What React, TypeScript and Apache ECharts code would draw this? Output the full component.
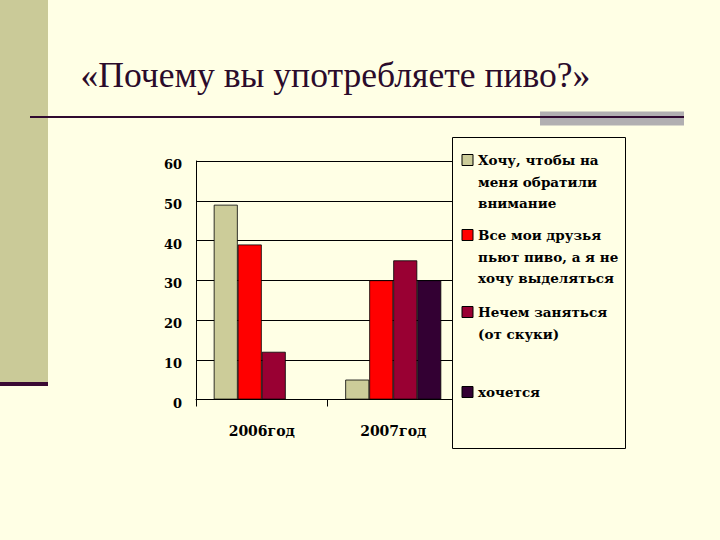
import React, { useEffect, useRef } from "react";
import * as echarts from "echarts";

const categories = ["2006год", "2007год"];
const seriesNames = [
  "Хочу, чтобы на меня обратили внимание",
  "Все мои друзья пьют пиво, а я не хочу выделяться",
  "Нечем заняться (от скуки)",
  "хочется",
];
const legendLabels = [
  "Хочу, чтобы на\nменя обратили\nвнимание",
  "Все мои друзья\nпьют пиво, а я не\nхочу выделяться",
  "Нечем заняться\n(от скуки)",
  "хочется",
];
const values2006 = [49, 39, 12, null];
const values2007 = [5, 30, 35, 30];
const seriesColors = ["#CCCC99", "#FF0000", "#990033", "#330033"];
const yTicks = { min: 0, max: 60, interval: 10 };
const titleText = "«Почему вы употребляете пиво?»";

const BG = "#FFFFE5";
const BOLD_FAMILY = "DejaVu Serif";

export default function App() {
  const ref = useRef<HTMLDivElement>(null);
  useEffect(() => {
    if (!ref.current) return;
    const chart = echarts.init(ref.current, null, { renderer: "svg" });
    const lineH = 21.5;
    const iconCenters = [160, 235, 312, 392];
    const legends = legendLabels.map((lbl, i) => {
      const n = lbl.split("\n").length;
      const T = (2 * n - 1) * lineH;
      const padded = "\n".repeat(n - 1) + lbl;
      return {
        data: [seriesNames[i]],
        left: 461.5,
        top: iconCenters[i] - T / 2,
        orient: "vertical",
        padding: 0,
        itemWidth: 11,
        itemHeight: 11,
        icon: "rect",
        selectedMode: false,
        z: 5,
        itemStyle: { borderColor: "#000", borderWidth: 1 },
        formatter: () => padded,
        textStyle: {
          fontFamily: BOLD_FAMILY,
          fontWeight: "bold",
          fontSize: 13.5,
          color: "#000",
          lineHeight: lineH,
        },
      };
    });
    chart.setOption({
      animation: false,
      backgroundColor: BG,
      grid: { left: 196, top: 161, width: 263, height: 238.5 },
      legend: legends,
      xAxis: {
        type: "category",
        data: categories,
        axisLine: { show: true, lineStyle: { color: "#000", width: 1 } },
        axisTick: { show: true, length: 7, lineStyle: { color: "#000" } },
        axisLabel: {
          fontFamily: BOLD_FAMILY,
          fontWeight: "bold",
          fontSize: 14,
          color: "#000",
          margin: 24,
        },
      },
      yAxis: {
        type: "value",
        min: yTicks.min,
        max: yTicks.max,
        interval: yTicks.interval,
        axisLine: { show: true, lineStyle: { color: "#000", width: 1 } },
        axisTick: { show: false },
        splitLine: { show: true, lineStyle: { color: "#000", width: 1 } },
        axisLabel: {
          margin: 14,
          formatter: "{v|{value}}",
          rich: {
            v: {
              fontFamily: BOLD_FAMILY,
              fontWeight: "bold",
              fontSize: 13,
              color: "#000",
              padding: [7, 0, 0, 0],
            },
          },
        },
      },
      series: seriesNames.map((name, i) => ({
        name,
        type: "bar",
        data: [values2006[i], values2007[i]],
        barWidth: 24,
        barGap: "0%",
        itemStyle: { color: seriesColors[i], borderColor: "#000", borderWidth: 0.8 },
      })),
      graphic: [
        { type: "rect", z: 1, shape: { x: 0, y: 0, width: 48, height: 382 }, style: { fill: "#CACA98" } },
        { type: "rect", z: 1, shape: { x: 0, y: 382, width: 48, height: 4 }, style: { fill: "#3A0A33" } },
        { type: "rect", z: 1, shape: { x: 540, y: 111.5, width: 144, height: 14 }, style: { fill: "#B1AFB1" } },
        { type: "line", z: 2, shape: { x1: 30, y1: 117, x2: 684, y2: 117 }, style: { stroke: "#300A30", lineWidth: 2 } },
        {
          type: "text",
          z: 2,
          style: {
            text: titleText,
            x: 80.5,
            y: 74.5,
            verticalAlign: "middle",
            font: "normal 35.6px 'Liberation Serif'",
            fill: "#2B0B2B",
          },
        },
        {
          type: "rect",
          z: 3,
          shape: { x: 452.5, y: 137.5, width: 173, height: 311 },
          style: { fill: BG, stroke: "#000", lineWidth: 1 },
        },
      ],
    });
    return () => chart.dispose();
  }, []);
  return (
    <div
      ref={ref}
      style={{ position: "fixed", left: 0, top: 0, width: 720, height: 540 }}
    />
  );
}
